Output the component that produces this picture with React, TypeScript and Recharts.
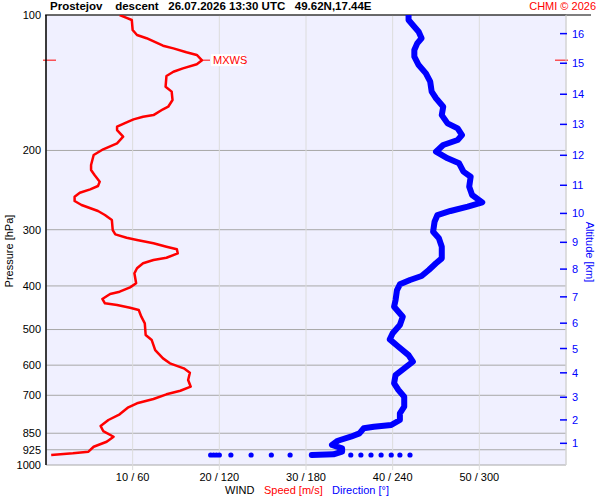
import { CartesianGrid, ComposedChart, ReferenceDot, ReferenceLine, Scatter, XAxis, YAxis } from 'recharts';

// pressure levels (hPa) on the left axis
const pressureTicks = [100, 200, 300, 400, 500, 600, 700, 850, 925, 1000];
// wind axis: speed m/s / direction deg
const speedTicks = [10, 20, 30, 40, 50];
const dirTicks = [60, 120, 180, 240, 300];
// altitude axis (km) and the pressure where each km sits
const altitudeKm = [1, 2, 3, 4, 5, 6, 7, 8, 9, 10, 11, 12, 13, 14, 15, 16];
const altitudeP = [895, 794, 707, 624, 551, 484, 423, 367, 320, 276, 239, 205, 175, 150, 128, 110];

// wind speed profile
const speedP = [100, 101.5, 102.6, 108.0, 110.8, 112.6, 117.0, 118.6, 121.0, 122.7, 126.1, 128.7, 131.4, 133.7, 136.6, 144.3, 148.0, 154.5, 159.9, 162.0, 166.9, 168.3, 170.6, 173.2, 177.1, 180.2, 186.4, 192.8, 198.8, 204.7, 215.4, 221.0, 226.8, 234.6, 239.9, 244.0, 248.3, 253.4, 259.0, 264.4, 272.6, 278.3, 285.5, 300.5, 307.2, 312.6, 316.2, 321.6, 327.3, 331.7, 338.6, 346.3, 350.4, 356.3, 365.5, 375.0, 394.7, 402.9, 412.0, 416.9, 427.6, 437.2, 441.0, 447.2, 452.5, 468.2, 484.4, 514.2, 527.6, 555.4, 579.5, 594.3, 609.7, 623.6, 647.3, 669.9, 683.8, 696.5, 713.4, 729.3, 744.4, 771.5, 794.3, 819.1, 840.5, 865.3, 887.8, 911.0, 934.2, 941.9, 950.0];
const speedV = [8.5, 9.3, 9.9, 10.0, 10.5, 11.6, 13.5, 14.7, 16.2, 17.4, 18.0, 17.4, 15.8, 14.7, 13.9, 13.8, 14.5, 14.6, 14.1, 13.5, 12.4, 11.2, 10.1, 9.3, 8.2, 8.2, 8.9, 8.2, 6.6, 5.5, 5.2, 5.2, 5.6, 6.2, 6.0, 5.1, 3.9, 3.3, 3.3, 4.1, 6.0, 6.8, 7.6, 7.7, 8.0, 9.3, 10.5, 12.4, 13.9, 15.1, 15.2, 13.9, 12.4, 11.2, 10.5, 10.2, 10.4, 9.7, 8.5, 7.4, 6.5, 6.8, 8.2, 9.7, 10.7, 11.0, 11.4, 11.5, 12.2, 12.6, 13.5, 14.3, 15.9, 16.6, 16.4, 16.7, 15.5, 13.9, 12.4, 10.5, 9.5, 8.5, 7.2, 6.3, 6.6, 7.8, 7.0, 5.5, 4.9, 3.1, 0.6];

// wind direction profile
const dirP = [100, 102.6, 106.2, 108.9, 112.6, 115.6, 119.6, 123.8, 129.2, 134.8, 140.7, 148.0, 153.1, 159.9, 166.9, 174.1, 178.6, 184.8, 189.6, 194.5, 201.3, 208.2, 213.6, 222.9, 228.7, 240.7, 251.2, 260.8, 266.7, 272.6, 278.3, 288.0, 303.1, 313.5, 327.3, 347.4, 356.3, 368.7, 380.2, 388.1, 396.7, 408.5, 429.9, 444.9, 468.2, 488.6, 509.8, 525.8, 546.1, 569.8, 589.5, 609.7, 631.0, 658.3, 681.3, 705.1, 741.9, 767.7, 794.3, 815.0, 822.1, 828.8, 850.8, 865.3, 883.3, 902.8, 918.4, 934.2, 946.7, 950.0];
const dirV = [251, 251, 255, 258, 260, 257, 255, 255, 258, 263, 266, 267, 270, 275, 274, 278, 285, 288, 285, 275, 270, 278, 286, 289, 294, 293, 295, 302, 292, 280, 271, 269, 268, 272, 274, 274, 270, 265, 260, 252, 245, 243, 242, 241, 247, 245, 240, 238, 244, 251, 254, 248, 242, 241, 244, 248, 248, 245, 245, 239, 227, 220, 217, 211, 202, 198, 205, 205, 199, 184];

// direction readings on the ground level
const surfaceP = 950;
const surfaceDir = [114, 116, 118, 120, 128, 142, 156, 169, 211, 218, 225, 232, 239, 245, 252];

// max wind speed
const mxwsSpeed = 18.0;
const mxwsP = 126;

const RED = '#ff0000';
const BLUE = '#0000ff';
const FONT = '"Liberation Sans", Arial, sans-serif';

const speedData = speedP.map((p, i) => ({ p, v: speedV[i] }));
const dirData = dirP.map((p, i) => ({ p, v: dirV[i] }));
const surfaceData = surfaceDir.map((v) => ({ p: surfaceP, v }));

const noShape = () => <g />;

const SurfaceDot = (props: any) => <circle cx={props.cx} cy={props.cy} r={2.6} fill={BLUE} />;

const AltTick = (props: any) => {
  const { x, y, payload } = props;
  const km = altitudeKm[altitudeP.indexOf(payload.value)];
  return (
    <g>
      <line x1={x - 6} x2={x + 1} y1={y} y2={y} stroke={BLUE} strokeWidth={1.5} />
      <text x={x + 6} y={y} dy={4} fill={BLUE} fontSize={11} fontFamily={FONT}>{km}</text>
    </g>
  );
};

const MxwsTicks = (props: any) => {
  const left = Math.min(props.x1, props.x2);
  const right = Math.max(props.x1, props.x2);
  const y = props.y1;
  return (
    <g>
      <line x1={left - 3} x2={left + 10} y1={y} y2={y} stroke={RED} strokeWidth={1} />
      <line x1={right - 11} x2={right + 2} y1={y} y2={y} stroke={RED} strokeWidth={1} />
    </g>
  );
};

const MxwsLabel = (props: any) => {
  const { cx, cy } = props;
  return (
    <g>
      <line x1={cx} x2={cx + 8} y1={cy} y2={cy} stroke={RED} strokeWidth={1} />
      <rect x={cx + 9} y={cy - 6} width={33} height={12} fill="#fff" />
      <text x={cx + 11} y={cy} dy={4} fill={RED} fontSize={11} fontFamily={FONT}>MXWS</text>
    </g>
  );
};

const TopLine = (props: any) => {
  const left = Math.min(props.x1, props.x2);
  const right = Math.max(props.x1, props.x2);
  return <line x1={left - 1} x2={right + 25} y1={props.y1} y2={props.y1} stroke="#000" strokeWidth={1.2} />;
};

const txt = (extra: any) => ({
  position: 'absolute' as const,
  fontFamily: FONT,
  fontSize: 11,
  lineHeight: '13px',
  whiteSpace: 'pre' as const,
  ...extra,
});

export default function App() {
  return (
    <div style={{ position: 'absolute', left: 0, top: 0, width: 600, height: 500, background: '#fff' }}>
      <ComposedChart
        width={600}
        height={500}
        margin={{ top: 15, right: 0, bottom: 15, left: 6 }}
        style={{ fontFamily: FONT }}
      >
        <CartesianGrid fill="#f0f0ff" stroke="#a8a8a8" vertical={false} />
        <CartesianGrid stroke="#dcdcdc" horizontal={false} />
        <XAxis
          dataKey="v"
          type="number"
          domain={[0, 60]}
          ticks={speedTicks}
          interval={0}
          allowDataOverflow
          axisLine={false}
          tickLine={{ stroke: '#dcdcdc' }}
          tickSize={5}
          tickMargin={3}
          height={20}
          tick={{ fill: '#000', fontSize: 11 }}
          tickFormatter={(v: number) => `${v} / ${dirTicks[speedTicks.indexOf(v)]}`}
        />
        <XAxis xAxisId="dir" dataKey="v" type="number" domain={[0, 360]} allowDataOverflow hide />
        <YAxis
          dataKey="p"
          type="number"
          scale="log"
          domain={[100, 1000]}
          reversed
          allowDataOverflow
          ticks={pressureTicks}
          interval={0}
          width={40}
          axisLine={{ stroke: '#000', strokeWidth: 1.5 }}
          tickLine={false}
          tickSize={0}
          tickMargin={5}
          tick={{ fill: '#000', fontSize: 11 }}
        />
        <YAxis
          yAxisId="alt"
          orientation="right"
          dataKey="p"
          type="number"
          scale="log"
          domain={[100, 1000]}
          reversed
          allowDataOverflow
          ticks={altitudeP}
          interval={0}
          width={34}
          axisLine={{ stroke: '#d0d0d0' }}
          tickLine={false}
          tickSize={0}
          tickMargin={0}
          tick={<AltTick />}
        />
        <ReferenceLine y={100} ifOverflow="visible" shape={<TopLine />} />
        <Scatter
          data={dirData}
          xAxisId="dir"
          isAnimationActive={false}
          fill={BLUE}
          line={{ stroke: BLUE, strokeWidth: 6, strokeLinecap: 'round', strokeLinejoin: 'round' }}
          shape={noShape}
        />
        <Scatter data={surfaceData} xAxisId="dir" isAnimationActive={false} fill={BLUE} shape={<SurfaceDot />} />
        <Scatter
          data={speedData}
          isAnimationActive={false}
          fill={RED}
          line={{ stroke: RED, strokeWidth: 2.5, strokeLinejoin: 'round' }}
          shape={noShape}
        />
        <ReferenceLine y={mxwsP} ifOverflow="visible" shape={<MxwsTicks />} />
        <ReferenceDot x={mxwsSpeed} y={mxwsP} ifOverflow="visible" shape={<MxwsLabel />} />
      </ComposedChart>

      <div style={txt({ left: 50, top: 0, fontWeight: 'bold', color: '#000', fontSize: 11.5 })}>
        {'Prostejov    descent   26.07.2026 13:30 UTC   49.62N,17.44E'}
      </div>
      <div style={txt({ right: 4, top: 0, color: RED })}>CHMI © 2026</div>
      <div style={txt({ left: 225, top: 484, color: '#000' })}>WIND</div>
      <div style={txt({ left: 264, top: 484, color: RED })}>Speed [m/s]</div>
      <div style={txt({ left: 332, top: 484, color: BLUE })}>Direction [°]</div>
      <div style={txt({ left: 8.5, top: 251, color: '#000', transform: 'translate(-50%, -50%) rotate(-90deg)' })}>
        Pressure [hPa]
      </div>
      <div style={txt({ left: 589, top: 252, color: BLUE, transform: 'translate(-50%, -50%) rotate(90deg)' })}>
        Altitude [km]
      </div>
    </div>
  );
}
